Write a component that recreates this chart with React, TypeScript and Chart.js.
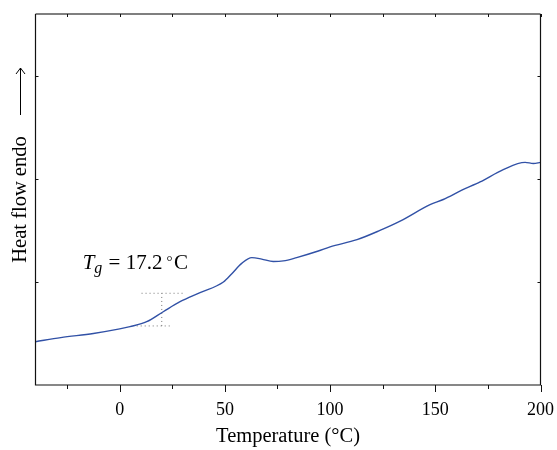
import React, { useEffect, useRef } from "react";
import { Chart, registerables } from "chart.js";

Chart.register(...registerables);

// Data
const temperatures = [-40, -28, -12.5, 0, 4.9, 12.85, 20.7, 28.7, 38.2, 49.3, 53.3, 58, 62.8, 67.5, 73, 77.8, 84.1, 94.4, 100, 112.8, 123.7, 133.3, 147.5, 153.8, 162.6, 171.3, 182.3, 192.7, 196.6, 200];
const heatFlow = [0.42, 0.46, 0.5, 0.544, 0.566, 0.614, 0.711, 0.808, 0.896, 1.0, 1.08, 1.18, 1.236, 1.222, 1.198, 1.204, 1.236, 1.3, 1.34, 1.41, 1.5, 1.59, 1.75, 1.8, 1.89, 1.97, 2.09, 2.16, 2.15, 2.16];
const xTickLabels = [0, 50, 100, 150, 200];
const xMinorTicks = [-25, 0, 25, 50, 75, 100, 125, 150, 175];
const yTicks = [1, 2, 3];
// Tg construction lines
const tgUpperX = [10.4, 30.9];
const tgUpperY = [0.89, 0.89];
const tgLowerX = [8.1, 25.2];
const tgLowerY = [0.573, 0.573];
const tgVertX = [20, 20];
const tgVertY = [0.573, 0.89];
const tgLabelPos = { x: -17.6, y: 1.123 };

const FONT = "'Liberation Serif', 'Times New Roman', serif";

const overlayPlugin = {
  id: "overlay",
  afterDraw(chart: any) {
    const { ctx, chartArea: a, scales } = chart;
    const xs = scales.x;
    const ys = scales.y;
    ctx.save();
    // frame
    ctx.lineCap = "butt";
    ctx.strokeStyle = "#555";
    ctx.lineWidth = 1.6;
    ctx.beginPath();
    ctx.moveTo(a.left, a.top);
    ctx.lineTo(a.right, a.top);
    ctx.stroke();
    ctx.strokeStyle = "#111";
    ctx.lineWidth = 1.2;
    ctx.beginPath();
    ctx.moveTo(a.left, a.top);
    ctx.lineTo(a.left, a.bottom);
    ctx.lineTo(a.right, a.bottom);
    ctx.lineTo(a.right, a.top);
    ctx.stroke();
    // ticks
    ctx.lineWidth = 1;
    ctx.strokeStyle = "#111";
    xMinorTicks.concat([200]).forEach((v) => {
      const px = Math.round(xs.getPixelForValue(v)) + 0.5;
      const len = v % 50 === 0 ? 7 : 4;
      ctx.beginPath();
      ctx.moveTo(px, a.bottom);
      ctx.lineTo(px, a.bottom + len);
      ctx.stroke();
      ctx.beginPath();
      ctx.moveTo(px, a.top);
      ctx.lineTo(px, a.top + 3);
      ctx.stroke();
    });
    yTicks.forEach((v) => {
      const py = Math.round(ys.getPixelForValue(v)) + 0.5;
      ctx.beginPath();
      ctx.moveTo(a.left, py);
      ctx.lineTo(a.left + 3, py);
      ctx.stroke();
      ctx.beginPath();
      ctx.moveTo(a.right, py);
      ctx.lineTo(a.right - 3, py);
      ctx.stroke();
    });
    // arrow next to y title
    const ax = 20.5;
    ctx.lineWidth = 1;
    ctx.strokeStyle = "#000";
    ctx.beginPath();
    ctx.moveTo(ax, 115);
    ctx.lineTo(ax, 68);
    ctx.moveTo(ax - 4.5, 74);
    ctx.lineTo(ax, 68);
    ctx.lineTo(ax + 4.5, 74);
    ctx.stroke();
    // Tg label
    let tx = xs.getPixelForValue(tgLabelPos.x);
    const ty = ys.getPixelForValue(tgLabelPos.y);
    ctx.fillStyle = "#000";
    ctx.textBaseline = "alphabetic";
    ctx.textAlign = "left";
    ctx.font = `italic 21px ${FONT}`;
    ctx.fillText("T", tx, ty);
    tx += ctx.measureText("T").width;
    ctx.font = `italic 16px ${FONT}`;
    ctx.fillText("g", tx, ty + 4);
    tx += ctx.measureText("g").width + 1;
    ctx.font = `21px ${FONT}`;
    ctx.fillText(" = 17.2", tx, ty);
    tx += ctx.measureText(" = 17.2").width + 4;
    ctx.font = `15px ${FONT}`;
    ctx.fillText("°", tx, ty - 3);
    tx += ctx.measureText("°").width + 1.5;
    ctx.font = `21px ${FONT}`;
    ctx.fillText("C", tx, ty);
    ctx.restore();
  },
};

export default function App() {
  const ref = useRef<HTMLCanvasElement>(null);
  useEffect(() => {
    document.body.style.margin = "0";
    const dotted = (xv: number[], yv: number[]) => ({
      data: xv.map((x, i) => ({ x, y: yv[i] })),
      borderColor: "#777",
      borderWidth: 1,
      borderDash: [1, 3],
      pointRadius: 0,
      fill: false,
    });
    const chart = new Chart(ref.current!, {
      type: "line",
      data: {
        datasets: [
          {
            data: temperatures.map((x, i) => ({ x, y: heatFlow[i] })),
            borderColor: "#3151a6",
            borderWidth: 1.4,
            pointRadius: 0,
            cubicInterpolationMode: "monotone",
            fill: false,
          },
          dotted(tgUpperX, tgUpperY),
          dotted(tgLowerX, tgLowerY),
          dotted(tgVertX, tgVertY),
        ],
      },
      options: {
        animation: false,
        responsive: false,
        events: [],
        layout: { padding: { top: 14, right: 16.5, left: 0, bottom: 0 } },
        plugins: { legend: { display: false }, tooltip: { enabled: false } },
        scales: {
          x: {
            type: "linear",
            min: -40,
            max: 200,
            afterBuildTicks: (s: any) => {
              s.ticks = xTickLabels.map((v) => ({ value: v }));
            },
            afterFit: (s: any) => {
              s.height = 65;
              s.paddingLeft = 0;
              s.paddingRight = 0;
            },
            grid: { display: false },
            border: { display: false },
            ticks: {
              color: "#000",
              padding: 6,
              maxRotation: 0,
              font: { family: FONT, size: 18 },
            },
            title: {
              display: true,
              text: "Temperature (°C)",
              color: "#000",
              font: { family: FONT, size: 20.5 },
              padding: { top: 0, bottom: 1 },
            },
          },
          y: {
            type: "linear",
            min: 0,
            max: 3.6,
            afterFit: (s: any) => {
              s.width = 35.5;
              s.paddingTop = 0;
              s.paddingBottom = 0;
            },
            grid: { display: false },
            border: { display: false },
            ticks: { display: false },
            title: {
              display: true,
              text: "Heat flow endo",
              color: "#000",
              font: { family: FONT, size: 20.5 },
              padding: { top: 8, bottom: 0 },
            },
          },
        },
      },
      plugins: [overlayPlugin],
    });
    return () => chart.destroy();
  }, []);
  return (
    <div style={{ position: "absolute", left: 0, top: 0, width: 557, height: 450, background: "#fff" }}>
      <canvas ref={ref} width={557} height={450} style={{ width: 557, height: 450 }} />
    </div>
  );
}
